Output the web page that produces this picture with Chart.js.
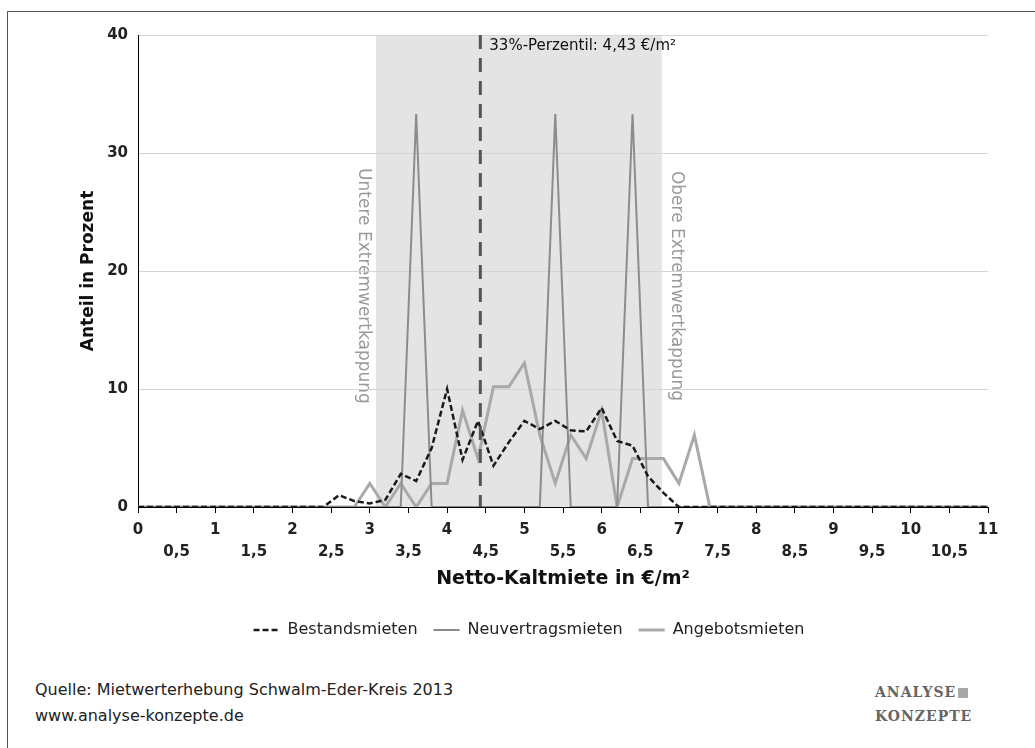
<!DOCTYPE html>
<html lang="de">
<head>
<meta charset="utf-8">
<title>Mietverteilung Schwalm-Eder-Kreis</title>
<script src="https://cdn.jsdelivr.net/npm/chart.js@4.4.1/dist/chart.umd.min.js"></script>
<style>
  html, body { margin: 0; padding: 0; background: #fff; }
  body { width: 1035px; height: 748px; position: relative; overflow: hidden; font-family: "DejaVu Sans", Verdana, sans-serif; }
  #rahmen { position: absolute; left: 7px; top: 11px; width: 1040px; height: 760px; border-left: 1px solid #555; border-top: 1px solid #555; }
  #chartbox { position: absolute; left: 0; top: 0; width: 1035px; height: 660px; }
  .quelle { position: absolute; left: 35px; top: 677px; font-size: 16px; line-height: 26px; color: #222; }
  .logo { position: absolute; left: 875px; top: 680px; font-family: "DejaVu Serif", serif; font-size: 14px; line-height: 24px; letter-spacing: 1px; color: #666; font-weight: bold; }
  .logo .icon { display: inline-block; width: 10px; height: 10px; margin-left: 2px; background: #a8a8a8; vertical-align: -1px; }
</style>
</head>
<body>
<div id="rahmen"></div>
<div id="chartbox"><canvas id="chart" width="1035" height="660"></canvas></div>
<div class="quelle">Quelle: Mietwerterhebung Schwalm-Eder-Kreis 2013<br>www.analyse-konzepte.de</div>
<div class="logo"><div>ANALYSE<span class="icon"></span></div><div>KONZEPTE</div></div>

<script>
const mieten = [0, 2.4, 2.6, 2.8, 3.0, 3.2, 3.4, 3.6, 3.8, 4.0, 4.2, 4.4, 4.6, 4.8, 5.0,
                5.2, 5.4, 5.6, 5.8, 6.0, 6.2, 6.4, 6.6, 6.8, 7.0, 7.2, 7.4, 7.6, 11];

// Anteile in Prozent
const bestandsmieten = [0, 0, 1.0, 0.5, 0.3, 0.6, 2.8, 2.2, 5.0, 10.0, 4.0, 7.3, 3.5, 5.5, 7.3,
                        6.6, 7.3, 6.5, 6.4, 8.4, 5.6, 5.2, 2.6, 1.2, 0, 0, 0, 0, 0];
const neuvertragsmieten = [0, 0, 0, 0, 0, 0, 0, 33.3, 0, 0, 0, 0, 0, 0, 0,
                           0, 33.3, 0, 0, 0, 0, 33.3, 0, 0, 0, 0, 0, 0, 0];
const angebotsmieten = [0, 0, 0, 0, 2.0, 0, 2.0, 0, 2.0, 2.0, 8.2, 4.1, 10.2, 10.2, 12.2,
                        6.1, 2.0, 6.1, 4.1, 8.2, 0, 4.1, 4.1, 4.1, 2.0, 6.1, 0, 0, 0];

// Kennwerte
const perzentil33 = 4.43;
const untereKappung = 3.08;
const obereKappung = 6.78;

const punkte = (werte) => mieten.map((x, i) => ({ x: x, y: werte[i] }));

// Extremwertbereich, Perzentil-Linie und Beschriftungen
const markierungen = {
    id: 'markierungen',
    beforeDraw(chart) {
        const { ctx, chartArea: a, scales: { x } } = chart;
        const x1 = x.getPixelForValue(untereKappung);
        const x2 = x.getPixelForValue(obereKappung);
        ctx.save();
        ctx.fillStyle = '#e4e4e4';
        ctx.fillRect(x1, a.top, x2 - x1, a.bottom - a.top);

        ctx.fillStyle = '#9a9a9a';
        ctx.font = '17px "DejaVu Sans"';
        ctx.textAlign = 'center';
        ctx.textBaseline = 'middle';
        [['Untere Extremwertkappung', x1 - 13], ['Obere Extremwertkappung', x2 + 15]].forEach(([text, px]) => {
            ctx.save();
            ctx.translate(px, 286);
            ctx.rotate(Math.PI / 2);
            ctx.fillText(text, 0, 0);
            ctx.restore();
        });
        ctx.restore();
    },
    afterDatasetsDraw(chart) {
        const { ctx, chartArea: a, scales: { x } } = chart;
        const xp = x.getPixelForValue(perzentil33);
        ctx.save();
        ctx.strokeStyle = '#555';
        ctx.lineWidth = 3;
        ctx.setLineDash([14, 9]);
        ctx.beginPath();
        ctx.moveTo(xp, a.top);
        ctx.lineTo(xp, a.bottom);
        ctx.stroke();
        ctx.fillStyle = '#111';
        ctx.font = '15px "DejaVu Sans"';
        ctx.textBaseline = 'middle';
        ctx.fillText('33%-Perzentil: 4,43 €/m²', xp + 9, a.top + 11);
        ctx.restore();
    }
};

const ctx = document.getElementById('chart').getContext('2d');
new Chart(ctx, {
    type: 'line',
    data: {
        datasets: [{
            label: 'Bestandsmieten',
            data: punkte(bestandsmieten),
            borderColor: '#1a1a1a',
            backgroundColor: '#1a1a1a',
            borderWidth: 2.5,
            borderDash: [6, 3],
            pointRadius: 0,
            pointStyle: 'line',
            tension: 0
        }, {
            label: 'Neuvertragsmieten',
            data: punkte(neuvertragsmieten),
            borderColor: '#8c8c8c',
            backgroundColor: '#8c8c8c',
            borderWidth: 2,
            pointRadius: 0,
            pointStyle: 'line',
            tension: 0
        }, {
            label: 'Angebotsmieten',
            data: punkte(angebotsmieten),
            borderColor: '#a9a9a9',
            backgroundColor: '#a9a9a9',
            borderWidth: 3,
            pointRadius: 0,
            pointStyle: 'line',
            tension: 0
        }]
    },
    options: {
        responsive: false,
        animation: false,
        layout: { padding: { left: 70, right: 47, top: 35, bottom: 12 } },
        plugins: {
            legend: {
                position: 'bottom',
                labels: {
                    usePointStyle: true,
                    pointStyleWidth: 26,
                    padding: 16,
                    color: '#222',
                    font: { family: '"DejaVu Sans"', size: 16 },
                    // Linienstil der Datenreihe auch in der Legende zeigen
                    generateLabels(chart) {
                        const items = Chart.defaults.plugins.legend.labels.generateLabels(chart);
                        items.forEach(item => {
                            const ds = chart.data.datasets[item.datasetIndex];
                            item.lineDash = ds.borderDash || [];
                            item.lineWidth = ds.borderWidth;
                            item.strokeStyle = ds.borderColor;
                        });
                        return items;
                    }
                }
            },
            tooltip: { enabled: false }
        },
        scales: {
            x: {
                type: 'linear',
                min: 0,
                max: 11,
                afterFit(s) { s.height = 99; },
                border: { display: true, color: '#000', width: 1 },
                grid: { display: true, drawOnChartArea: false, drawTicks: true, tickLength: 6, tickColor: '#000' },
                ticks: {
                    stepSize: 0.5,
                    autoSkip: false,
                    maxRotation: 0,
                    padding: 6,
                    color: '#222',
                    font: { family: '"DejaVu Sans"', size: 15, weight: 'bold', lineHeight: 1.45 },
                    callback: (v) => Number.isInteger(v) ? [String(v), ''] : ['', String(v).replace('.', ',')]
                },
                title: {
                    display: true,
                    text: 'Netto-Kaltmiete in €/m²',
                    color: '#111',
                    font: { family: '"DejaVu Sans"', size: 19, weight: 'bold' },
                    padding: { top: 2, bottom: 16 }
                }
            },
            y: {
                min: 0,
                max: 40,
                afterFit(s) { s.width = 68; },
                border: { display: true, color: '#000', width: 1 },
                grid: { color: '#d4d4d4', drawTicks: false },
                ticks: {
                    stepSize: 10,
                    padding: 10,
                    color: '#222',
                    font: { family: '"DejaVu Sans"', size: 15, weight: 'bold' }
                },
                title: {
                    display: true,
                    text: 'Anteil in Prozent',
                    color: '#111',
                    font: { family: '"DejaVu Sans"', size: 17, weight: 'bold' },
                    padding: { top: 8, bottom: 0 }
                }
            }
        }
    },
    plugins: [markierungen]
});
</script>
</body>
</html>
